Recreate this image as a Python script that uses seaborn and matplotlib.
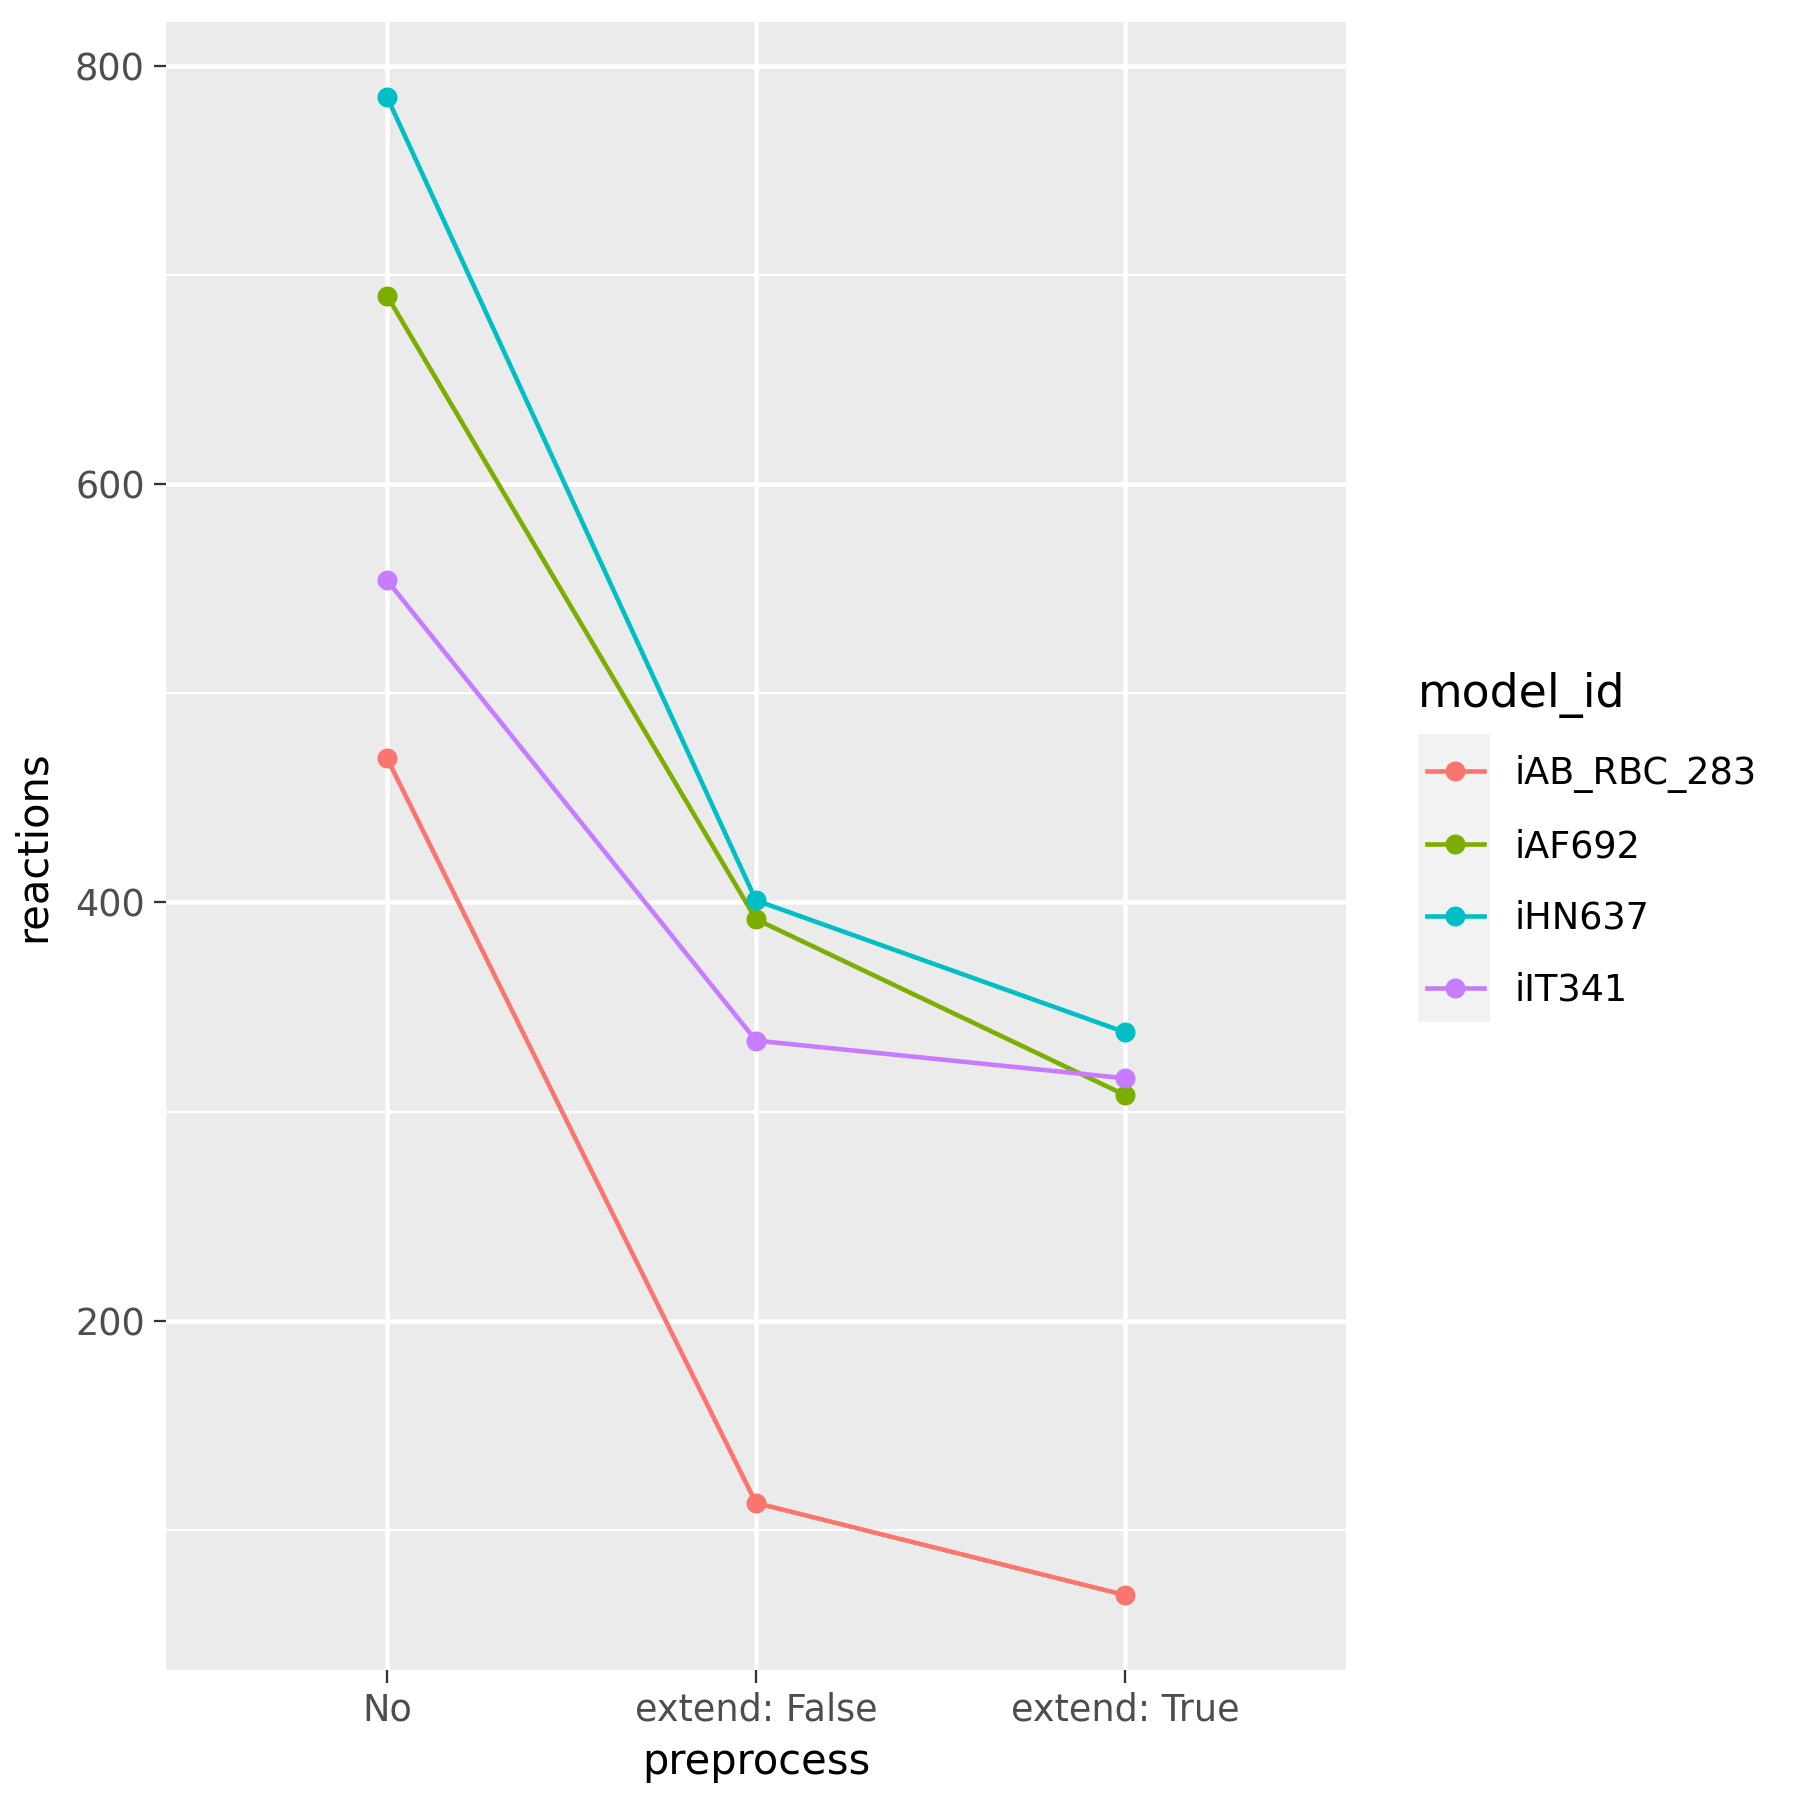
import seaborn as sns
import matplotlib.pyplot as plt
import pandas as pd
from matplotlib.patches import Rectangle
from matplotlib.ticker import MultipleLocator

preprocess = ["No", "extend: False", "extend: True"]
models = ["iAB_RBC_283", "iAF692", "iHN637", "iIT341"]
iAB_RBC_283 = [469, 113, 69]
iAF692 = [690, 392, 308]
iHN637 = [785, 401, 338]
iIT341 = [554, 334, 316]
colores = ["#F8766D", "#7CAE00", "#00BFC4", "#C77CFF"]

filas = []
for modelo, valores in zip(models, [iAB_RBC_283, iAF692, iHN637, iIT341]):
    for p, v in zip(preprocess, valores):
        filas.append({"preprocess": p, "reactions": v, "model_id": modelo})
df = pd.DataFrame(filas)

plt.rcParams['font.family'] = ['DejaVu Sans']
fig = plt.figure(figsize=(6, 6), dpi=300)
ax = fig.add_axes([0.092, 0.072, 0.656, 0.916])

ax.set_facecolor("#EBEBEB")
sns.lineplot(data=df, x="preprocess", y="reactions", hue="model_id",
             hue_order=models, palette=colores, marker="o", markersize=4.8,
             markeredgewidth=0, linewidth=1.1, sort=False, ax=ax, zorder=3)

ax.set_xlim(-0.6, 2.6)
ax.set_ylim(33, 821)
ax.yaxis.set_major_locator(MultipleLocator(200))
ax.yaxis.set_minor_locator(MultipleLocator(100))
ax.grid(which="major", color="white", linewidth=1.1, zorder=0)
ax.grid(which="minor", axis="y", color="white", linewidth=0.55, zorder=0)
ax.set_axisbelow(True)
for s in ax.spines.values():
    s.set_visible(False)
ax.tick_params(which="major", length=3, width=0.55, color="#333333",
               labelsize=8.8, labelcolor="#4D4D4D", pad=2)
ax.tick_params(which="minor", length=0)
ax.set_xlabel("preprocess", fontsize=10, labelpad=3)
ax.set_ylabel("reactions", fontsize=10, labelpad=5)

# leyenda estilo ggplot
ax.get_legend().remove()
handles, labels = ax.get_legend_handles_labels()
fig.add_artist(Rectangle((0.788, 0.432), 0.0395, 0.160, transform=fig.transFigure,
                         facecolor="#F2F2F2", edgecolor="none", zorder=0))
fig.text(0.7875, 0.614, "model_id", fontsize=11, va="center", ha="left")
fig.legend(handles, labels, loc="center left", bbox_to_anchor=(0.7846, 0.510),
           frameon=False, fontsize=8.8, handlelength=1.55, handletextpad=0.85,
           labelspacing=0.95, borderaxespad=0)

fig.savefig("out.png", dpi=300)
